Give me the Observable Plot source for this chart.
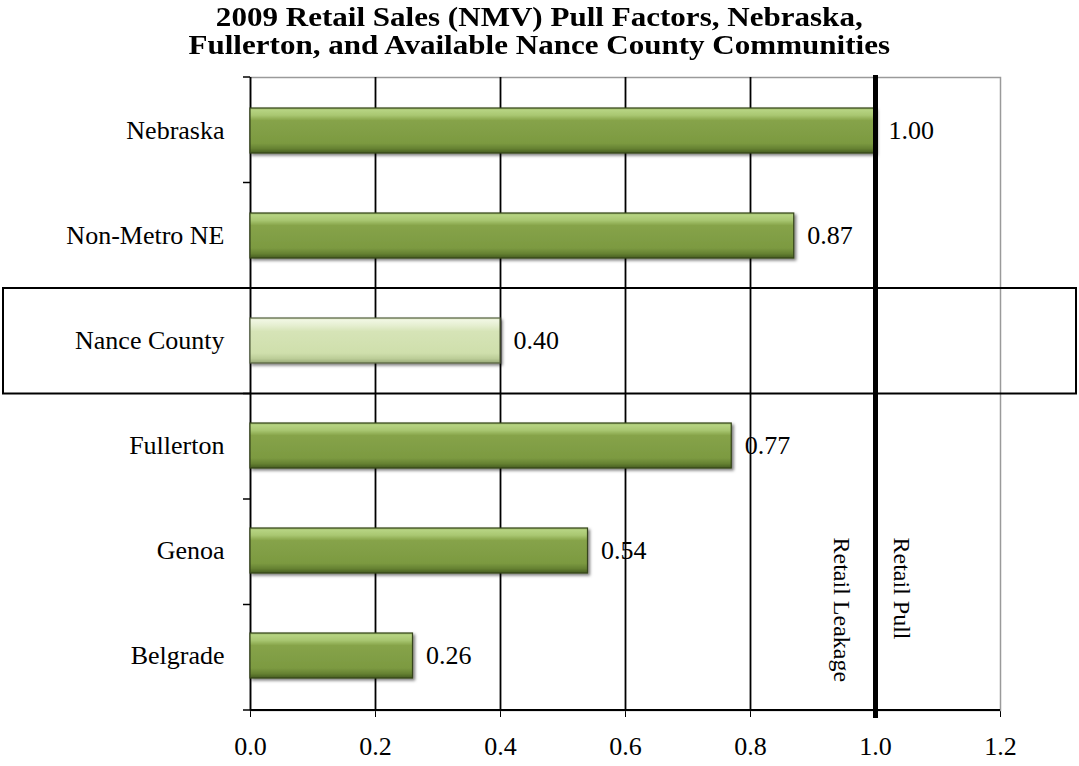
<!DOCTYPE html>
<html><head><meta charset="utf-8">
<script src="https://cdn.jsdelivr.net/npm/d3@7"></script>
<script src="https://cdn.jsdelivr.net/npm/@observablehq/plot@0.6"></script>
<style>
body{margin:0;background:#fff;width:1079px;height:766px;overflow:hidden}
#title{height:59px;padding-top:3px;text-align:center;font-family:"Liberation Serif","Times New Roman",serif;font-weight:bold;font-size:27px;color:#000}
#title div{height:28px;line-height:28px;white-space:nowrap;transform:scaleX(1.15);transform-origin:541px 50%}
</style></head><body>
<svg width="0" height="0" style="position:absolute">
<defs>
<linearGradient id="gGreen" x1="0" y1="0" x2="0" y2="1">
<stop offset="0" stop-color="#9CBA66"/>
<stop offset="0.05" stop-color="#B6D382"/>
<stop offset="0.16" stop-color="#A9C771"/>
<stop offset="0.28" stop-color="#86A349"/>
<stop offset="0.78" stop-color="#7C9A41"/>
<stop offset="0.9" stop-color="#668233"/>
<stop offset="1" stop-color="#465D20"/>
</linearGradient>
<linearGradient id="gLight" x1="0" y1="0" x2="0" y2="1">
<stop offset="0" stop-color="#DDE9C4"/>
<stop offset="0.05" stop-color="#F0F6E2"/>
<stop offset="0.16" stop-color="#E6EFD2"/>
<stop offset="0.3" stop-color="#D6E4B7"/>
<stop offset="0.78" stop-color="#CFDFAC"/>
<stop offset="0.9" stop-color="#BCCD98"/>
<stop offset="1" stop-color="#98A977"/>
</linearGradient>
<filter id="shadow" x="-5%" y="-20%" width="115%" height="150%">
<feDropShadow dx="2" dy="2" stdDeviation="1.6" flood-color="#000" flood-opacity="0.5"/>
</filter>
</defs></svg>
<div id="title"><div>2009 Retail Sales (NMV) Pull Factors, Nebraska,</div><div>Fullerton, and Available Nance County Communities</div></div>
<div id="chart"></div>
<script>
const categories = ["Nebraska", "Non-Metro NE", "Nance County", "Fullerton", "Genoa", "Belgrade"];
const pullFactors = [1.00, 0.87, 0.40, 0.77, 0.54, 0.26];
const highlighted = "Nance County";
const xTicks = [0, 0.2, 0.4, 0.6, 0.8, 1.0, 1.2];
const gridTicks = [0.2, 0.4, 0.6, 0.8];
const threshold = 1.0;
const zoneLabels = ["Retail Leakage", "Retail Pull"];

const data = categories.map((c, i) => ({cat: c, value: pullFactors[i]}));

function bandDecor(index, scales, values, dims) {
  const {width, height, marginTop, marginBottom, marginLeft, marginRight} = dims;
  const n = categories.length;
  const step = (height - marginTop - marginBottom) / n;
  const g = d3.create("svg:g");
  for (let i = 0; i <= n; i++) {
    const yy = marginTop + i * step;
    g.append("line").attr("x1", marginLeft - 7).attr("x2", marginLeft)
      .attr("y1", yy).attr("y2", yy).attr("stroke", "#000").attr("stroke-width", 1.5);
  }
  g.append("line").attr("x1", marginLeft).attr("x2", width - marginRight)
    .attr("y1", height - marginBottom).attr("y2", height - marginBottom)
    .attr("stroke", "#000").attr("stroke-width", 1.8);
  const k = categories.indexOf(highlighted);
  g.append("rect").attr("x", 3).attr("y", marginTop + k * step)
    .attr("width", width - 6).attr("height", step)
    .attr("fill", "none").attr("stroke", "#000").attr("stroke-width", 2);
  return g.node();
}

const chart = Plot.plot({
  width: 1079,
  height: 704,
  marginTop: 15,
  marginBottom: 56,
  marginLeft: 250,
  marginRight: 79,
  style: {fontFamily: "'Liberation Serif','Times New Roman',serif", fontSize: "26px", color: "#000", background: "#fff"},
  x: {domain: [0, 1.2], ticks: xTicks, tickFormat: d3.format(".1f"), tickSize: 7, tickPadding: 19, label: null},
  y: {domain: categories, paddingInner: 0.57, paddingOuter: 0.285, tickSize: 0, tickPadding: 26, label: null},
  marks: [
    Plot.frame({stroke: "#9a9a9a", strokeWidth: 1.5}),
    Plot.ruleX(gridTicks, {stroke: "#000", strokeWidth: 1.8}),
    Plot.ruleX([0], {stroke: "#000", strokeWidth: 1.8}),
    Plot.barX(data, {filter: d => d.cat !== highlighted, x: "value", y: "cat", fill: "url(#gGreen)", stroke: "#34441A", strokeWidth: 1.2}),
    Plot.barX(data, {filter: d => d.cat === highlighted, x: "value", y: "cat", fill: "url(#gLight)", stroke: "#56623F", strokeWidth: 1.2}),
    Plot.ruleX([threshold], {stroke: "#000", strokeWidth: 5, insetTop: -2, insetBottom: -8}),
    Plot.text(data, {x: "value", y: "cat", text: d => d3.format(".2f")(d.value), dx: 13, textAnchor: "start", fontSize: 26}),
    Plot.text([zoneLabels[0]], {x: threshold, frameAnchor: "top", text: d => d, rotate: 90, textAnchor: "start", dx: -24, dy: 460, fontSize: 24}),
    Plot.text([zoneLabels[1]], {x: threshold, frameAnchor: "top", text: d => d, rotate: 90, textAnchor: "start", dx: 36, dy: 460, fontSize: 24}),
    bandDecor
  ]
});
chart.querySelectorAll('g[aria-label="bar"]').forEach(g => g.setAttribute("filter", "url(#shadow)"));
document.getElementById("chart").appendChild(chart);
</script>
</body></html>
